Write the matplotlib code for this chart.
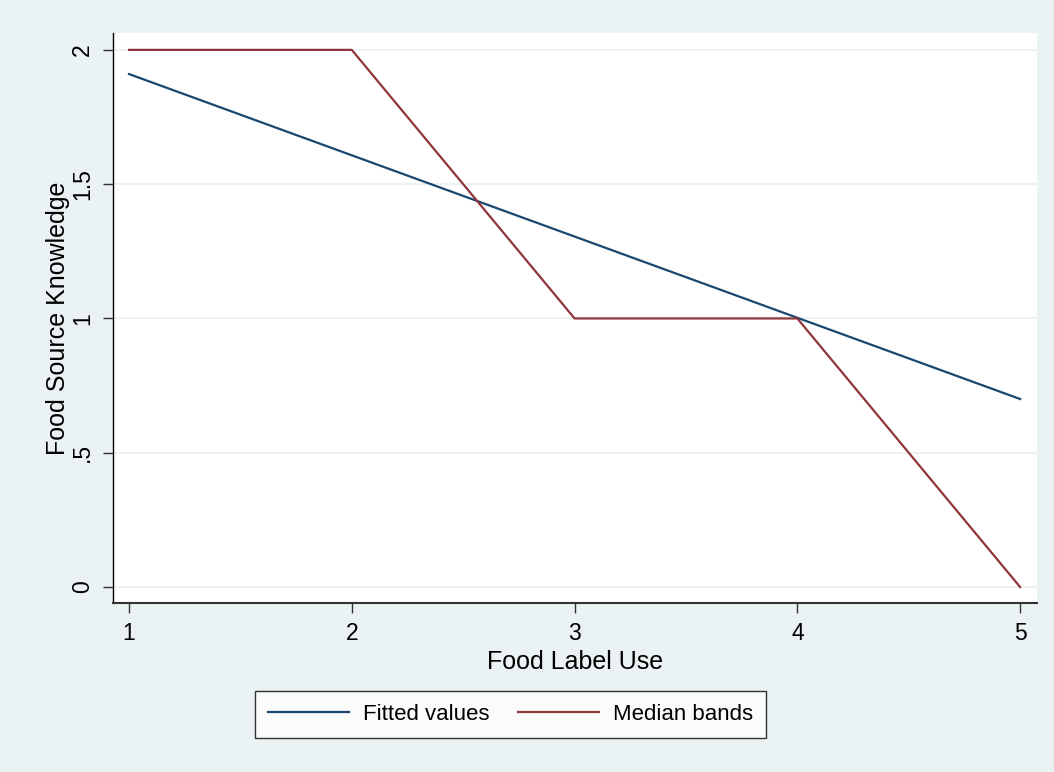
import matplotlib
matplotlib.use("Agg")
import matplotlib.pyplot as plt

plt.rcParams['font.family'] = ['Liberation Sans', 'DejaVu Sans']

x_fit = [1, 5]
y_fit = [1.91, 0.70]
x_med = [1, 2, 3, 4, 5]
y_med = [2, 2, 1, 1, 0]
xticks = [1, 2, 3, 4, 5]
yticks = [0, 0.5, 1, 1.5, 2]
ytick_labels = ["0", ".5", "1", "1.5", "2"]

bg = "#EAF2F3"
fig = plt.figure(figsize=(10.54, 7.72), dpi=100, facecolor=bg)
ax = fig.add_axes([0.1072, 0.2189, 0.8767, 0.7384])
ax.set_facecolor("white")

for yv in yticks:
    ax.axhline(yv, color=bg, lw=1.5, zorder=0)

ax.plot(x_fit, y_fit, color="#1a476f", lw=1.6, label="Fitted values")
ax.plot(x_med, y_med, color="#90353b", lw=1.6, label="Median bands")

ax.set_xlim(0.928, 5.076)
ax.set_ylim(-0.0596, 2.063)
ax.set_xticks(xticks)
ax.set_xticklabels([str(v) for v in xticks], fontsize=16.5)
ax.set_yticks(yticks)
ax.set_yticklabels(ytick_labels, fontsize=16.5, rotation=90, va="center")
ax.tick_params(direction="out", length=7.5, width=1, color="#333333", pad=6)

for s in ["top", "right"]:
    ax.spines[s].set_visible(False)
ax.spines["left"].set_color("black")
ax.spines["bottom"].set_color("#333333")
ax.spines["left"].set_linewidth(1.0)
ax.spines["bottom"].set_linewidth(1.5)

ax.set_xlabel("Food Label Use", fontsize=18, labelpad=4)
ax.set_ylabel("Food Source Knowledge", fontsize=18, labelpad=1)

leg = fig.legend(loc="center", bbox_to_anchor=(0.4843, 0.0745), ncol=2,
                 fontsize=16, frameon=True, fancybox=False, handlelength=3.65,
                 columnspacing=1.3, handletextpad=0.6, borderpad=0.6,
                 borderaxespad=0)
leg.get_frame().set_edgecolor("black")
leg.get_frame().set_linewidth(1.0)

fig.savefig("out.png", dpi=100, facecolor=bg)
